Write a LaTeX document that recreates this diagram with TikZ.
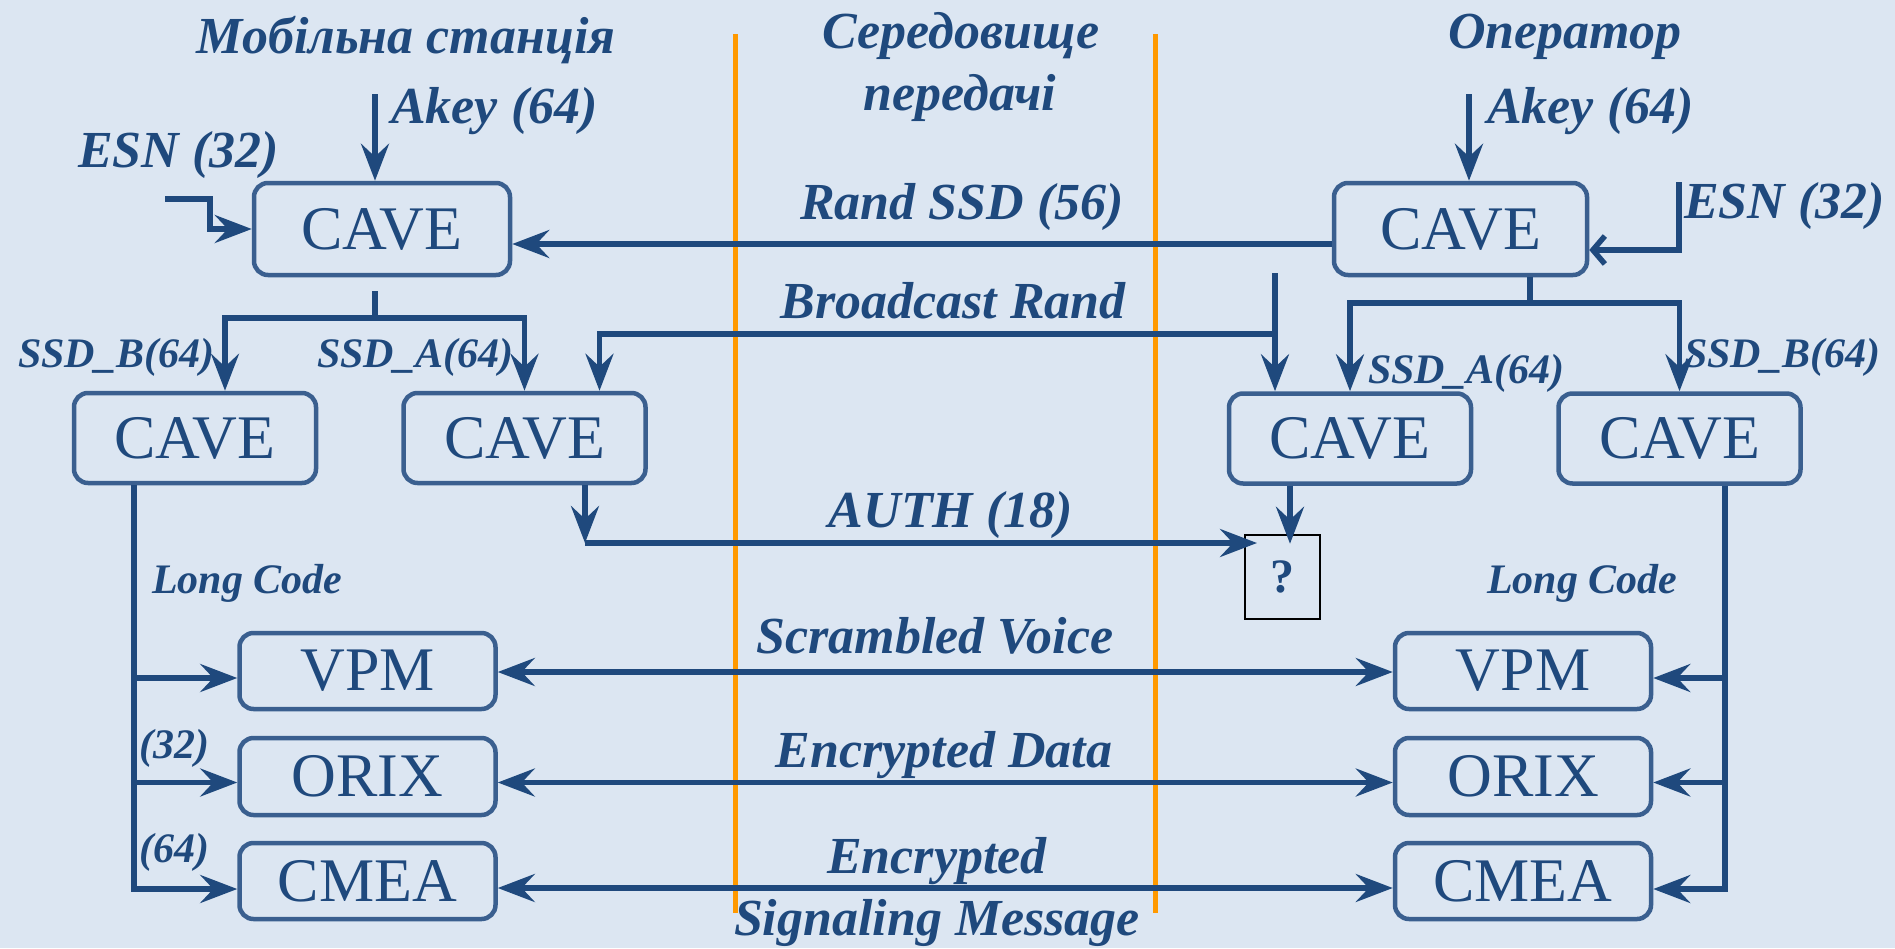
\documentclass[tikz,border=0pt]{standalone}
\usepackage{fontspec}
\setmainfont{Liberation Serif}
\usetikzlibrary{arrows.meta,calc}
\definecolor{bgc}{HTML}{DCE6F2}
\definecolor{dblue}{HTML}{1F497D}
\definecolor{bord}{HTML}{3A5F8F}
\definecolor{orng}{HTML}{FF9900}
\begin{document}
\begin{tikzpicture}[x=1pt,y=-1pt,
  box/.style={draw=bord, line width=4.5pt, rounded corners=14pt, text=dblue, font=\fontsize{62}{62}\selectfont, inner sep=0pt},
  cave/.style={box, minimum width=242pt, minimum height=90pt},
  small/.style={box, minimum width=256pt, minimum height=76pt},
  lbl/.style={text=dblue, font=\fontsize{52}{52}\selectfont\bfseries\itshape, inner sep=0pt},
  slbl/.style={text=dblue, font=\fontsize{42}{42}\selectfont\bfseries\itshape, inner sep=0pt},
  ln/.style={draw=dblue, line width=5.5pt},
  tip/.tip={Stealth[length=37pt,width=28pt,inset=13pt]},
  arr/.style={ln, -tip},
  darr/.style={ln, tip-tip},
  sep/.style={draw=orng, line width=5pt}
]
\useasboundingbox[fill=bgc] (0,0) rectangle (1895,948);
% separators
\draw[sep] (735,34) -- (735,913);
\draw[sep] (1155,34) -- (1155,913);
% titles
\node[lbl, anchor=base] at (406,53) {Мобільна станція};
\node[lbl, anchor=base] at (961,48) {Середовище};
\node[lbl, anchor=base] at (960,110) {передачі};
\node[lbl, anchor=base] at (1565,48) {Оператор};
% boxes
\node[cave, minimum width=256pt, minimum height=92pt] (tl) at (382,229) {CAVE};
\node[cave, minimum width=253pt, minimum height=92pt] (tr) at (1460.5,229) {CAVE};
\node[cave] (bl1) at (195,438) {CAVE};
\node[cave] (bl2) at (524.5,438) {CAVE};
\node[cave] (br1) at (1350,438.5) {CAVE};
\node[cave] (br2) at (1679.5,438.5) {CAVE};
\node[small] (lvpm) at (367.5,671) {VPM};
\node[small, minimum height=77pt] (lorix) at (367.5,776.5) {ORIX};
\node[small] (lcmea) at (367.5,881) {CMEA};
\node[small] (rvpm) at (1523,671) {VPM};
\node[small, minimum height=77pt] (rorix) at (1523,776.5) {ORIX};
\node[small] (rcmea) at (1523,881) {CMEA};
\node[draw=black, line width=2pt, minimum width=75pt, minimum height=84pt, inner sep=0pt,
      text=dblue, font=\fontsize{48}{48}\selectfont\bfseries] (q) at (1282.5,577) {?};
% labels
\node[lbl, anchor=base west] at (391,123) {Akey (64)};
\node[lbl, anchor=base west] at (1487,123) {Akey (64)};
\node[lbl, anchor=base west] at (78,167) {ESN (32)};
\node[lbl, anchor=base west] at (1684,218) {ESN (32)};
\node[lbl, anchor=base] at (962,219) {Rand SSD (56)};
\node[lbl, anchor=base] at (953,318) {Broadcast Rand};
\node[lbl, anchor=base] at (951,527) {AUTH (18)};
\node[slbl, anchor=base west] at (18,367) {SSD\_B(64)};
\node[slbl, anchor=base west] at (317,367) {SSD\_A(64)};
\node[slbl, anchor=base west] at (1368,383) {SSD\_A(64)};
\node[slbl, anchor=base west] at (1684,367) {SSD\_B(64)};
\node[slbl, anchor=base west] at (152,593) {Long Code};
\node[slbl, anchor=base west] at (1487,593) {Long Code};
\node[slbl, anchor=base west] at (139,758) {(32)};
\node[slbl, anchor=base west] at (139,862) {(64)};
\node[lbl, anchor=base] at (935,653) {Scrambled Voice};
\node[lbl, anchor=base] at (944,767) {Encrypted Data};
\node[lbl, anchor=base] at (937,873) {Encrypted};
\node[lbl, anchor=base] at (937,935) {Signaling Message};
% inputs
\coordinate (akL) at (375,94);
\draw[arr] (akL) -- (akL |- tl.north);
\coordinate (akR) at (1469,94);
\draw[arr] (akR) -- (akR |- tr.north);
\coordinate (esnL) at (165,199);
\draw[arr] (esnL) -- ++(45,0) |- (tl.west);
\coordinate (esnR) at (1679,182);
\draw[ln, -{Straight Barb[length=12pt,width=28pt]}] (esnR) |- ($(tr.east)+(0,21)$);
% Rand SSD
\draw[arr] ($(tr.west)+(0,15)$) -- ($(tl.east)+(0,15)$);
% left tree
\coordinate (tlj) at (375,318);
\draw[ln] ($(tl.south)+(-7,14)$) -- (tlj);
\draw[arr] (tlj) -| ($(bl1.north)+(30,0)$);
\draw[arr] (tlj) -| (bl2.north);
% right tree
\coordinate (trj) at (1530,303);
\draw[ln] (trj |- tr.south) -- (trj);
\draw[arr] (trj) -| (br1.north);
\draw[arr] (trj) -| (br2.north);
% broadcast
\coordinate (bcT) at (1275,273);
\coordinate (bcJ) at (1275,334);
\draw[arr] (bcT) -- (bcT |- br1.north);
\draw[arr] (bcJ) -| ($(bl2.north)+(75,0)$);
% AUTH
\coordinate (authC) at (585,543);
\coordinate (qa) at (q.west |- authC);
\draw[arr] (authC |- bl2.south) -- (authC);
\draw[arr] (authC) -- ($(qa)+(13,0)$);
\coordinate (qd) at ($(br1.south)+(-60,0)$);
\draw[arr] (qd) -- ++(0,58);
% left long code
\coordinate (llc) at (134,889);
\coordinate (lv) at ($(lvpm.west)+(0,7)$);
\coordinate (lo) at ($(lorix.west)+(0,6)$);
\coordinate (lc) at ($(lcmea.west)+(0,8)$);
\draw[arr] (llc |- bl1.south) -- (llc |- lc) -- (lc);
\draw[arr] (llc |- lv) -- (lv);
\draw[arr] (llc |- lo) -- (lo);
% right long code
\coordinate (rlc) at (1725,889);
\coordinate (rv) at ($(rvpm.east)+(0,7)$);
\coordinate (ro) at ($(rorix.east)+(0,6)$);
\coordinate (rc) at ($(rcmea.east)+(0,8)$);
\draw[arr] (rlc |- br2.south) -- (rlc |- rc) -- (rc);
\draw[arr] (rlc |- rv) -- (rv);
\draw[arr] (rlc |- ro) -- (ro);
% channels
\draw[darr] ($(lvpm.east)+(0,1)$) -- ($(rvpm.west)+(0,1)$);
\draw[darr] ($(lorix.east)+(0,6)$) -- ($(rorix.west)+(0,6)$);
\draw[darr] ($(lcmea.east)+(0,7)$) -- ($(rcmea.west)+(0,7)$);
\end{tikzpicture}
\end{document}
